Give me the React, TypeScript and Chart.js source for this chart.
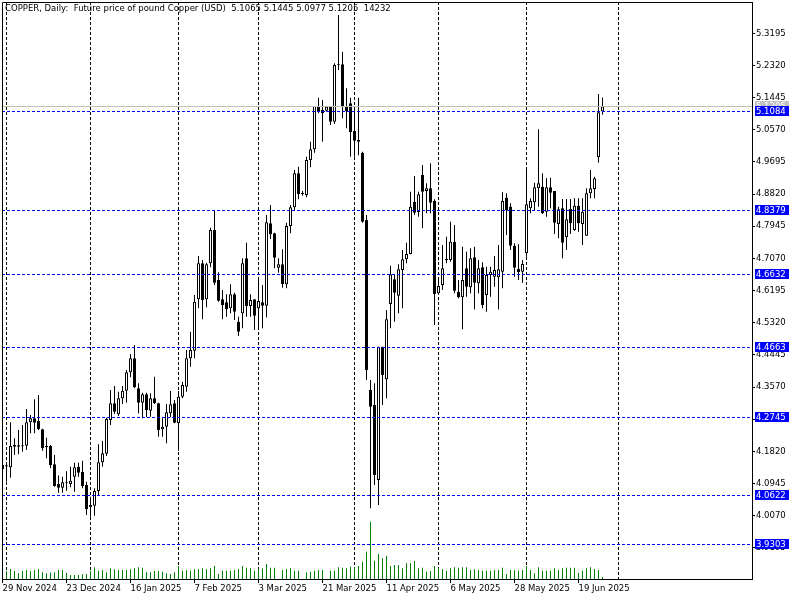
import React, { useEffect, useRef } from "react";
import { Chart, registerables } from "chart.js";

Chart.register(...registerables);

const symbolName = "COPPER";
const periodName = "Daily";
const description = "Future price of pound Copper (USD)";

const opens = [4.145,4.141,4.1385,4.1948,4.1948,4.1975,4.1975,4.2610,4.2719,4.2646,
 4.2419,4.1975,4.1966,4.1467,4.0932,4.0832,4.0977,4.0932,4.1131,4.1394,
 4.1258,4.0904,4.0297,4.0342,4.0741,4.1521,4.1757,4.2673,4.3127,4.2827,
 4.3263,4.3471,4.3970,4.4351,4.3535,4.3145,4.3372,4.2927,4.3263,4.3127,
 4.2419,4.2492,4.2854,4.3127,4.2582,4.3308,4.3580,4.4351,4.4558,4.5957,
 4.6936,4.5957,4.6936,4.7843,4.6483,4.5957,4.5875,4.5712,4.6093,4.5349,
 4.5575,4.7072,4.5775,4.5957,4.5712,4.5875,4.5784,4.8024,4.7752,4.6818,
 4.6909,4.6365,4.7952,4.8460,4.9385,4.8840,4.8795,4.9747,5.0037,5.1217,
 5.1108,5.1090,5.1199,5.0790,5.2332,5.2350,5.1217,5.1289,5.0536,5.0291,
 4.9947,4.8115,4.3489,4.3081,4.1040,4.4668,4.3779,4.5829,4.6500,4.6056,
 4.6754,4.7044,4.7190,4.8613,4.8332,4.9339,4.8904,4.8976,4.8632,4.6119,
 4.6346,4.7026,4.7026,4.7525,4.6164,4.6010,4.6799,4.6282,4.7099,4.6391,
 4.6826,4.6074,4.6618,4.6573,4.6554,4.6709,4.8722,4.8477,4.7416,4.6781,
 4.6709,4.7207,4.8432,4.8595,4.8976,4.9022,4.8341,4.9003,4.8904,4.8006,
 4.8432,4.7643,4.8414,4.7842,4.8505,4.8006,4.7688,4.8840,4.8958,4.9820,
 5.1065];

const highs = [4.150,4.150,4.2610,4.2174,4.2401,4.2537,4.2972,4.2809,4.3235,4.3353,
 4.2437,4.2192,4.1993,4.1721,4.1159,4.1131,4.1277,4.1403,4.1512,4.1512,
 4.1567,4.0995,4.0587,4.0814,4.2011,4.2102,4.2737,4.3489,4.3598,4.3444,
 4.3598,4.4034,4.4469,4.4714,4.3671,4.3417,4.3417,4.3399,4.3852,4.3145,
 4.2718,4.3109,4.3462,4.3217,4.3462,4.3716,4.4578,4.5075,4.6074,4.7136,
 4.7027,4.6954,4.7907,4.8369,4.6691,4.6210,4.6093,4.6365,4.6138,4.5485,
 4.7072,4.7498,4.6093,4.5957,4.6528,4.6347,4.8251,4.8523,4.7770,4.7072,
 4.7317,4.8043,4.8523,4.9476,4.9566,4.8904,4.9837,5.0246,5.1220,5.1443,
 5.1380,5.1217,5.1217,5.2378,5.3693,5.2695,5.1697,5.1443,5.1108,5.1443,
 4.9974,4.8251,4.3761,4.3670,4.4668,4.4668,4.5666,4.6872,4.6636,4.6908,
 4.7298,4.7498,4.8886,4.9312,4.8886,4.9611,4.9112,4.9657,4.8677,4.6482,
 4.7434,4.7661,4.8069,4.7978,4.6482,4.7389,4.7253,4.7344,4.7389,4.7026,
 4.6963,4.6845,4.6845,4.7135,4.7434,4.8867,4.8840,4.8568,4.7480,4.7452,
 4.7026,4.9475,4.8704,4.9130,5.0582,4.9384,4.9248,4.9266,4.8904,4.8477,
 4.8686,4.8686,4.8686,4.8704,4.8704,4.8704,4.8976,4.9475,4.9294,5.1543,
 5.1445];

const lows = [4.128,4.100,4.1104,4.1721,4.1739,4.1811,4.1857,4.2310,4.2310,4.2401,
 4.1839,4.1630,4.1358,4.0859,4.0696,4.0696,4.0750,4.0841,4.0722,4.1131,
 4.0814,4.0088,4.0043,4.0070,4.0605,4.1403,4.1694,4.2537,4.2836,4.2782,
 4.3109,4.3145,4.3834,4.3535,4.2854,4.2719,4.2746,4.2764,4.3109,4.2220,
 4.2220,4.2038,4.2746,4.2582,4.1839,4.3263,4.3444,4.4124,4.4351,4.5712,
 4.5412,4.5739,4.6827,4.6346,4.5893,4.5412,4.5485,4.5575,4.5394,4.4959,
 4.5168,4.5485,4.5485,4.5122,4.5168,4.5168,4.5467,4.7598,4.6800,4.6682,
 4.6274,4.6256,4.7752,4.8387,4.8678,4.8777,4.8732,4.9548,4.9947,5.1017,
 5.0246,5.1062,5.0700,5.0727,5.2196,5.0881,5.0609,4.9838,4.9838,4.9880,
 4.8042,4.3761,4.0269,4.0904,4.0360,4.3081,4.3262,4.5167,4.5348,4.5575,
 4.5711,4.6936,4.7181,4.8251,4.8205,4.7888,4.8296,4.8296,4.5258,4.6074,
 4.6210,4.6936,4.6981,4.6119,4.5983,4.5139,4.6028,4.6119,4.5684,4.6119,
 4.5711,4.5620,4.6028,4.6300,4.5684,4.6255,4.7706,4.7298,4.6573,4.6482,
 4.6409,4.7117,4.8296,4.8359,4.8477,4.8278,4.8205,4.8432,4.7733,4.7616,
 4.7071,4.7298,4.7733,4.7824,4.7797,4.7434,4.7688,4.8704,4.8704,4.9675,
 5.0977];

const closes = [4.133,4.144,4.1966,4.1993,4.1984,4.1966,4.2610,4.2719,4.2600,4.2419,
 4.1902,4.1929,4.1449,4.0877,4.0832,4.0977,4.0950,4.1022,4.1385,4.1240,
 4.0877,4.0242,4.0360,4.0741,4.1521,4.1766,4.2700,4.3127,4.2900,4.3263,
 4.3471,4.3970,4.4351,4.3562,4.3145,4.3372,4.2945,4.3263,4.3127,4.2401,
 4.2492,4.2882,4.3099,4.2600,4.3308,4.3625,4.4351,4.4578,4.5892,4.6936,
 4.5938,4.6909,4.7843,4.6410,4.5920,4.5802,4.5684,4.6093,4.5621,4.5077,
 4.6936,4.5775,4.5938,4.5512,4.5911,4.5784,4.8052,4.7725,4.7090,4.6909,
 4.6365,4.7952,4.8460,4.9385,4.8823,4.8834,4.9747,5.0037,5.1217,5.1062,
 5.1017,5.1199,5.0790,5.2332,5.2350,5.1199,5.1081,5.0500,5.0273,5.0246,
 4.8069,4.4033,4.3035,4.1176,4.4668,4.3897,4.5412,4.6636,4.6137,4.6772,
 4.7044,4.7190,4.8477,4.8314,4.8813,4.8886,4.8976,4.8586,4.6101,4.6319,
 4.6800,4.7062,4.7525,4.6192,4.6010,4.6482,4.6300,4.7071,4.6409,4.6799,
 4.5802,4.6618,4.6708,4.6754,4.6772,4.8631,4.8387,4.7416,4.6817,4.6690,
 4.6917,4.8541,4.8631,4.9003,4.9112,4.8296,4.9003,4.8858,4.8042,4.8405,
 4.7498,4.8133,4.8024,4.8505,4.8024,4.8341,4.8840,4.8976,4.9248,5.1044,
 5.1205];

const volumes = [49600,49600,62000,49600,35100,49600,55800,49600,55800,62000,
 41300,35100,39300,41300,55800,55800,39300,24800,24800,24800,
 28900,31000,51700,72300,51700,55800,41300,66100,59900,55800,
 55800,55800,59900,66100,72300,70300,41300,41300,49600,49600,
 45500,35100,31000,41300,80600,51700,55800,51700,59900,59900,
 66100,59900,66100,80600,31000,51700,51700,51700,55800,62000,
 80600,70300,66100,51700,62000,66100,93000,70300,70300,0,
 55800,62000,66100,51700,51700,0,41300,45500,51700,55800,
 55800,0,51700,51700,72300,70300,66100,76500,72300,80600,
 107500,169500,355500,113700,155000,128100,144700,80600,86800,86800,
 66100,97100,97100,111600,66100,70300,45500,49600,80600,66100,
 59900,51700,66100,72300,70300,72300,72300,55800,59900,55800,
 51700,51700,51700,55800,55800,70300,31000,55800,55800,51700,
 55800,80600,55800,35100,72300,51700,51700,51700,66100,55800,
 66100,70300,70300,70300,39300,51700,66100,72300,62000,55800,
 14232];

const dateLabels = ["29 Nov 2024","23 Dec 2024","16 Jan 2025","7 Feb 2025","3 Mar 2025",
 "21 Mar 2025","11 Apr 2025","6 May 2025","28 May 2025","19 Jun 2025"];
const dateLabelBars = [0,16,32,48,64,80,96,112,128,144];
const monthGridBars = [1,22,44,64,88,109,131,154];

const priceTicks = [3.9195,4.0070,4.0945,4.1820,4.2695,4.3570,4.4445,4.5320,4.6195,
 4.7070,4.7945,4.8820,4.9695,5.0570,5.1445,5.2320,5.3195];
const priceLines = [5.1084,4.8379,4.6632,4.4663,4.2745,4.0622,3.9303];
const bidPrice = 5.1205;

const FONT_FAMILY = "'DejaVu Sans', sans-serif";
const FONT_SIZE = 8.5;

export default function App() {
  const ref = useRef<HTMLCanvasElement>(null);

  useEffect(() => {
    const canvas = ref.current;
    if (!canvas) return;
    const n = opens.length;
    const minBody = 0.0028;
    const bodies = opens.map((o, i) => {
      const c = closes[i];
      let lo = Math.min(o, c);
      let hi = Math.max(o, c);
      if (hi - lo < minBody) {
        const m = (hi + lo) / 2;
        lo = m - minBody / 2;
        hi = m + minBody / 2;
      }
      return { x: i, y: [lo, hi] };
    });
    const bodyFill = opens.map((o, i) => (closes[i] >= o ? "#ffffff" : "#000000"));
    const wicks = lows.map((l, i) => ({ x: i, y: [l, highs[i]] }));
    const vols = volumes.map((v, i) => ({ x: i, y: v }));
    const last = n - 1;
    const title = `${symbolName}, ${periodName}:  ${description}  ${opens[last].toFixed(4)} ${highs[last].toFixed(4)} ${lows[last].toFixed(4)} ${closes[last].toFixed(4)}  ${volumes[last]}`;
    const font = `${FONT_SIZE}px ${FONT_FAMILY}`;
    const xTickValues = Array.from(new Set([...dateLabelBars, ...monthGridBars])).sort((p, q) => p - q);

    const overlay = {
      id: "mtOverlay",
      beforeDraw(chart: any) {
        const ctx = chart.ctx;
        ctx.save();
        ctx.fillStyle = "#ffffff";
        ctx.fillRect(0, 0, chart.width, chart.height);
        ctx.restore();
      },
      afterDatasetsDraw(chart: any) {
        const ctx = chart.ctx;
        const ys = chart.scales.y;
        const a = chart.chartArea;
        ctx.save();
        ctx.beginPath();
        ctx.rect(a.left, a.top, a.right - a.left, a.bottom - a.top);
        ctx.clip();
        ctx.lineWidth = 1;
        const by = Math.round(ys.getPixelForValue(bidPrice)) + 0.5;
        ctx.strokeStyle = "#c0c0c0";
        ctx.setLineDash([]);
        ctx.beginPath();
        ctx.moveTo(a.left, by);
        ctx.lineTo(a.right, by);
        ctx.stroke();
        ctx.strokeStyle = "#0000ff";
        ctx.setLineDash([3, 2]);
        priceLines.forEach((p) => {
          const y = Math.round(ys.getPixelForValue(p)) + 0.5;
          ctx.beginPath();
          ctx.moveTo(a.left, y);
          ctx.lineTo(a.right, y);
          ctx.stroke();
        });
        ctx.restore();
      },
      afterDraw(chart: any) {
        const ctx = chart.ctx;
        const ys = chart.scales.y;
        const a = chart.chartArea;
        ctx.save();
        ctx.strokeStyle = "#000000";
        ctx.lineWidth = 1;
        ctx.setLineDash([]);
        ctx.beginPath();
        ctx.moveTo(a.left + 0.5, a.bottom);
        ctx.lineTo(a.left + 0.5, a.top + 0.5);
        ctx.lineTo(a.right, a.top + 0.5);
        ctx.stroke();
        ctx.font = font;
        ctx.textAlign = "left";
        ctx.textBaseline = "middle";
        const drawLabel = (p: number, bg: string) => {
          const y = Math.round(ys.getPixelForValue(p));
          ctx.fillStyle = bg;
          ctx.fillRect(a.right + 3, y - 5, 34, 10);
          ctx.fillStyle = "#ffffff";
          ctx.fillText(p.toFixed(4), a.right + 4, y + 0.5);
        };
        drawLabel(bidPrice, "#c0c0c0");
        priceLines.forEach((p) => drawLabel(p, "#0000ff"));
        ctx.fillStyle = "#000000";
        ctx.fillText(title, a.left + 3, 9);
        ctx.restore();
      },
    };

    const chart = new Chart(canvas, {
      type: "bar",
      data: {
        datasets: [
          {
            label: "Volume",
            data: vols as any,
            yAxisID: "yv",
            xAxisID: "x",
            backgroundColor: "#008000",
            barThickness: 1,
            grouped: false,
            inflateAmount: 0,
            borderWidth: 0,
            order: 4,
          },
          {
            label: "Wicks",
            data: wicks as any,
            yAxisID: "y",
            xAxisID: "x",
            backgroundColor: "#000000",
            barThickness: 1,
            grouped: false,
            inflateAmount: 0,
            borderWidth: 0,
            order: 3,
          },
          {
            label: "Bodies",
            data: bodies as any,
            yAxisID: "y",
            xAxisID: "x",
            backgroundColor: bodyFill,
            borderColor: "#000000",
            borderWidth: 1,
            borderSkipped: false,
            barThickness: 3,
            grouped: false,
            inflateAmount: 0,
            order: 2,
          },
        ],
      },
      options: {
        animation: false,
        responsive: false,
        devicePixelRatio: 1,
        events: [],
        layout: { padding: { left: 2, top: 2, right: 0, bottom: 0 } },
        plugins: { legend: { display: false }, tooltip: { enabled: false }, title: { display: false } },
        scales: {
          x: {
            type: "linear",
            position: "bottom",
            min: -0.125,
            max: 187.375,
            offset: false,
            afterBuildTicks: (s: any) => {
              s.ticks = xTickValues.map((v) => ({ value: v }));
            },
            afterFit: (s: any) => {
              s.height = 21;
              s.paddingLeft = 0;
              s.paddingRight = 0;
              s.paddingTop = 0;
              s.paddingBottom = 0;
            },
            ticks: {
              autoSkip: false,
              maxRotation: 0,
              minRotation: 0,
              align: "start",
              padding: 1,
              color: "#000000",
              font: { family: FONT_FAMILY, size: FONT_SIZE },
              callback: (value: any) => {
                const idx = dateLabelBars.indexOf(Number(value));
                return idx >= 0 ? dateLabels[idx] : "";
              },
            },
            grid: {
              offset: false,
              drawOnChartArea: true,
              drawTicks: true,
              tickLength: 4,
              color: (c: any) => (c.tick && monthGridBars.includes(c.tick.value) ? "#000000" : "rgba(0,0,0,0)"),
              tickColor: (c: any) => (c.tick && dateLabelBars.includes(c.tick.value) ? "#000000" : "rgba(0,0,0,0)"),
              lineWidth: 1,
            },
            border: { display: true, color: "#000000", width: 1, dash: [3, 2] },
          },
          y: {
            type: "linear",
            position: "right",
            min: 3.8346,
            max: 5.4047,
            afterBuildTicks: (s: any) => {
              s.ticks = priceTicks.map((v) => ({ value: v }));
            },
            afterFit: (s: any) => {
              s.width = 48;
              s.paddingTop = 0;
              s.paddingBottom = 0;
              s.paddingLeft = 0;
              s.paddingRight = 0;
            },
            ticks: {
              autoSkip: false,
              padding: 1,
              color: "#000000",
              font: { family: FONT_FAMILY, size: FONT_SIZE },
              callback: (value: any) => Number(value).toFixed(4),
            },
            grid: {
              drawOnChartArea: false,
              drawTicks: true,
              tickLength: 3,
              tickColor: "#000000",
            },
            border: { display: true, color: "#000000", width: 1 },
          },
          yv: {
            type: "linear",
            display: false,
            min: 0,
            max: 3577400,
          },
        },
      } as any,
      plugins: [overlay as any],
    });

    return () => {
      chart.destroy();
    };
  }, []);

  return (
    <div style={{ position: "fixed", left: 0, top: 0, width: 800, height: 600, background: "#ffffff" }}>
      <canvas ref={ref} width={800} height={600} style={{ width: 800, height: 600, display: "block" }} />
    </div>
  );
}
